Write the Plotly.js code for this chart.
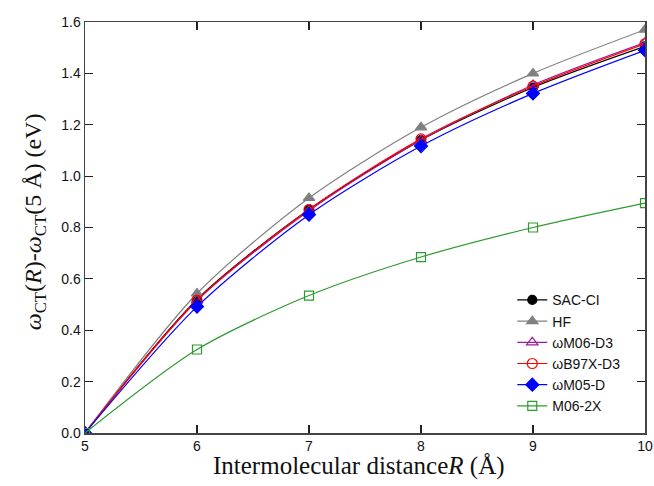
<!DOCTYPE html>
<html>
<head>
<meta charset="utf-8">
<script src="https://cdn.plot.ly/plotly-3.0.1.min.js"></script>
<style>html,body{margin:0;padding:0;background:#fff;}#chart{width:654px;height:486px;}</style>
</head>
<body>
<div id="chart"></div>
<script>
const R = [5, 6, 7, 8, 9, 10];
const sacci = [0, 0.520, 0.870, 1.140, 1.345, 1.505];
const hf = [0, 0.543, 0.915, 1.190, 1.400, 1.570];
const wm06d3 = [0, 0.515, 0.865, 1.140, 1.355, 1.520];
const wb97xd3 = [0, 0.517, 0.870, 1.145, 1.350, 1.515];
const wm05d = [0, 0.492, 0.850, 1.117, 1.322, 1.490];
const m062x = [0, 0.325, 0.535, 0.685, 0.800, 0.895];
const names = ["SAC-CI", "HF", "\u03c9M06-D3", "\u03c9B97X-D3", "\u03c9M05-D", "M06-2X"];
const xTicks = [5, 6, 7, 8, 9, 10];
const xTickText = ['5', '6', '7', '8', '9', '10'];
const yTicks = [0, 0.2, 0.4, 0.6, 0.8, 1.0, 1.2, 1.4, 1.6];
const yTickText = ['0.0', '0.2', '0.4', '0.6', '0.8', '1.0', '1.2', '1.4', '1.6'];
const xTitle = 'Intermolecular distance<i>R</i> (Å)';
const yTitle = '<i>ω</i><sub>CT</sub>(<i>R</i>)-<i>ω</i><sub>CT</sub>(5 Å) (eV)';

function tr(y, name, color, symbol, size) {
  return {
    x: R, y: y, name: name, type: 'scatter', mode: 'lines+markers',
    line: {color: color, width: 1.2, shape: 'spline', smoothing: 0.8},
    marker: {color: color, symbol: symbol, size: size, line: {color: color, width: 1.2}}
  };
}
const data = [
  tr(sacci, names[0], '#000000', 'circle', 9),
  tr(hf, names[1], '#808080', 'triangle-up', 10),
  tr(wm06d3, names[2], '#9b1fa0', 'triangle-up-open', 10),
  tr(wb97xd3, names[3], '#ff0000', 'circle-open', 10),
  tr(wm05d, names[4], '#0000ff', 'diamond', 10),
  tr(m062x, names[5], '#2e9a2e', 'square-open', 9)
];
const axisCommon = {
  showgrid: false, zeroline: false, showline: true, linecolor: '#444', linewidth: 1.5,
  mirror: 'ticks', ticks: 'inside', ticklen: 8, tickwidth: 1.2, tickcolor: '#222',
  tickfont: {family: 'Liberation Sans, Arial, sans-serif', size: 14, color: '#111'}
};
const serif = 'Liberation Serif, Times New Roman, serif';
const layout = {
  width: 654, height: 486,
  margin: {l: 85, r: 9, t: 22, b: 53},
  paper_bgcolor: '#fff', plot_bgcolor: '#fff',
  showlegend: true,
  legend: {x: 0.763, y: 0.026, xanchor: 'left', yanchor: 'bottom', bgcolor: 'rgba(0,0,0,0)',
    font: {family: 'Liberation Sans, Arial, sans-serif', size: 14, color: '#111'},
    tracegroupgap: 0, itemwidth: 30},
  xaxis: Object.assign({}, axisCommon, {range: [5, 10], tickvals: xTicks, ticktext: xTickText}),
  yaxis: Object.assign({}, axisCommon, {range: [0, 1.6], tickvals: yTicks, ticktext: yTickText}),
  annotations: [
    {text: xTitle, xref: 'paper', yref: 'paper', x: 0.489, y: -0.081, xanchor: 'center', yanchor: 'middle',
      showarrow: false, font: {family: serif, size: 25, color: '#111'}},
    {text: yTitle, xref: 'paper', yref: 'paper', x: -0.089, y: 0.513, xanchor: 'center', yanchor: 'middle',
      textangle: -90, showarrow: false, font: {family: serif, size: 24, color: '#111'}}
  ]
};
Plotly.newPlot('chart', data, layout, {displayModeBar: false, staticPlot: true});
</script>
</body>
</html>
